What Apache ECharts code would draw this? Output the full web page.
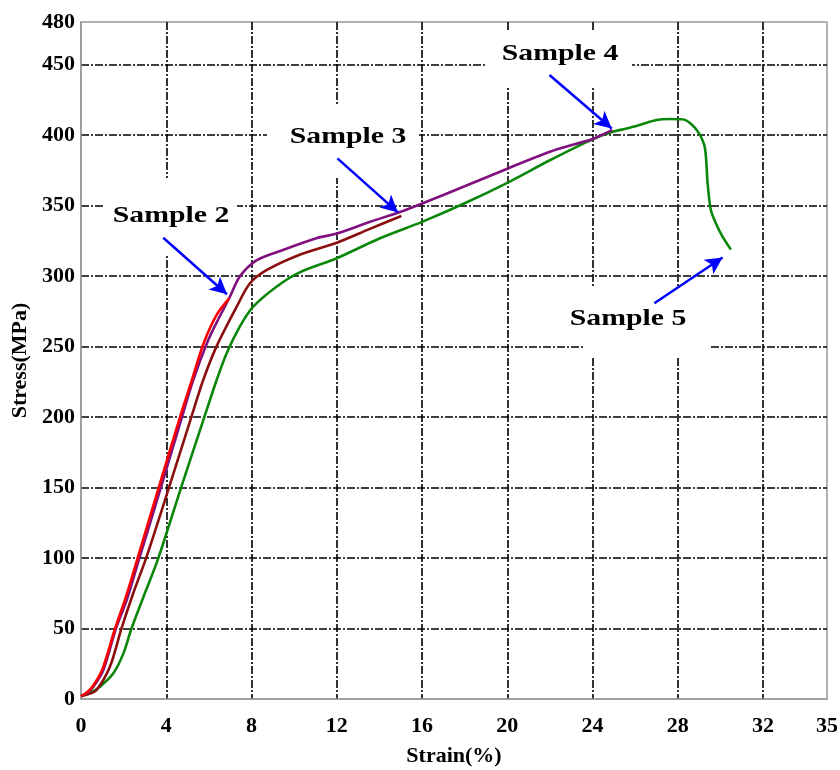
<!DOCTYPE html>
<html>
<head>
<meta charset="utf-8">
<script src="https://cdn.jsdelivr.net/npm/echarts@6/dist/echarts.min.js"></script>
<style>html,body{margin:0;padding:0;background:#fff;}#chart{width:840px;height:770px;}</style>
</head>
<body>
<div id="chart"></div>
<script>
// ---- tick values ----
var xTickValues = [0, 4, 8, 12, 16, 20, 24, 28, 32, 35];
var yTickValues = [0, 50, 100, 150, 200, 250, 300, 350, 400, 450, 480];

// ---- Sample 2 (red) ----
var s2Strain = [0, 0.3, 0.55, 1.0, 1.6, 2.1, 2.66, 3.65, 4.65, 5.2, 5.75, 6.35, 6.95];
var s2Stress = [2, 5, 9, 21, 50, 72, 100, 150, 200, 226, 252, 272, 284];

// ---- Sample 3 (maroon) ----
var s3Strain = [0, 0.35, 0.73, 1.36, 1.9, 2.45, 3.08, 4.13, 5.18, 5.73, 6.36, 7.3, 7.92, 8.7, 10.26, 12.0, 13.5, 15.03];
var s3Stress = [2, 3.5, 6.4, 23, 50, 75, 101, 150, 200, 226, 250, 278, 294.6, 304, 315, 323.5, 333, 342.5];

// ---- Sample 4 (purple) ----
var s4Strain = [0, 0.3, 0.58, 1.05, 1.64, 2.14, 2.76, 3.75, 4.74, 5.26, 5.97, 6.5, 6.98, 7.45, 8.23, 9.48, 11.04, 12.0, 13.5, 15.0, 16.0, 18.0, 20.0, 22.0, 23.2, 24.0, 24.93];
var s4Stress = [2, 4.5, 8.7, 20.6, 50, 70, 101, 150, 200, 226, 254.5, 271, 285, 299.5, 311, 318.4, 326.7, 330, 338, 345.5, 351.3, 363.5, 376, 388, 393.5, 397, 403.5];

// ---- Sample 5 (green) ----
var s5Strain = [0, 0.45, 0.89, 1.51, 1.98, 2.37, 2.92, 3.62, 4.7, 5.79, 6.36, 6.83, 7.45, 8.07, 9.17, 10.26, 12.0, 14.0, 16.0, 18.0, 20.0, 22.0, 24.0, 25.0, 25.6, 26.2, 27.0, 27.6, 28.2, 28.6, 29.0, 29.24, 29.32, 29.4, 29.55, 29.79, 30.1, 30.49];
var s5Stress = [2, 4.5, 8.7, 18, 32, 50, 72, 99.5, 150, 200, 226, 245, 264, 278, 292.3, 302.5, 312.5, 326.5, 338.3, 351.5, 366, 382, 396.8, 402.3, 404.5, 407, 410.5, 411.2, 411, 408, 401, 392.8, 384.5, 365.6, 346.7, 337.2, 327.8, 318.7];

// ---- annotation arrows (data coords: [fromStrain, fromStress, toStrain, toStress]) ----
var arrow2 = [3.86, 327, 6.85, 287];
var arrow3 = [12.03, 383.3, 14.87, 345];
var arrow4 = [21.98, 442.4, 24.9, 404.5];
var arrow5 = [26.9, 280.6, 30.1, 313];

function pairs(xs, ys) { return xs.map(function (x, i) { return [x, ys[i]]; }); }
function arrowLine(a) {
  return {
    silent: true, animation: false,
    symbol: ['none', 'arrow'], symbolSize: [13, 17],
    label: { show: false },
    lineStyle: { color: '#0000ff', width: 2.5, type: 'solid' },
    emphasis: { disabled: true },
    data: [[{ coord: [a[0], a[1]] }, { coord: [a[2], a[3]] }]]
  };
}

var serifBold = { fontFamily: 'Liberation Serif', fontWeight: 'bold', color: '#000' };
var gridLine = { color: '#000', width: 1.6, type: [8, 2, 2, 2] };

function seriesOf(name, xs, ys, color, arrow) {
  return {
    name: name, type: 'line', data: pairs(xs, ys),
    showSymbol: false, symbol: 'none',
    smooth: 0.3,
    lineStyle: { color: color, width: 2.6 },
    itemStyle: { color: color },
    animation: false, z: 3,
    markLine: arrowLine(arrow)
  };
}

var chart = echarts.init(document.getElementById('chart'), null, { renderer: 'canvas' });

function labelEl(text, cx, cy) {
  return {
    type: 'text', x: cx, y: cy, scaleX: 1.24, z: 20,
    style: { text: text, x: 0, y: 0, align: 'center', verticalAlign: 'middle',
      font: 'bold 24px "Liberation Serif"', fill: '#000' }
  };
}
function boxEl(x, y, w, h) {
  return { type: 'rect', shape: { x: x, y: y, width: w, height: h }, z: 1, silent: true,
    style: { fill: '#fff' } };
}

chart.setOption({
  backgroundColor: '#fff',
  animation: false,
  grid: { left: 81, right: 13, top: 22, bottom: 71, show: true, borderColor: '#999', borderWidth: 1.5, outerBoundsMode: 'none' },
  xAxis: {
    type: 'value', min: xTickValues[0], max: xTickValues[xTickValues.length - 1], interval: xTickValues[1] - xTickValues[0],
    name: 'Strain(%)', nameLocation: 'middle', nameGap: 46,
    nameTextStyle: Object.assign({ fontSize: 22 }, serifBold),
    axisLine: { show: true, lineStyle: { color: '#999', width: 1.5 } },
    axisTick: { show: false },
    axisLabel: Object.assign({ fontSize: 22, margin: 16 }, serifBold),
    splitLine: { show: true, showMinLine: false, showMaxLine: false, lineStyle: gridLine }
  },
  yAxis: {
    type: 'value', min: yTickValues[0], max: yTickValues[yTickValues.length - 1], interval: yTickValues[1] - yTickValues[0],
    name: 'Stress(MPa)', nameLocation: 'middle', nameGap: 48,
    nameTextStyle: Object.assign({ fontSize: 22 }, serifBold),
    axisLine: { show: true, lineStyle: { color: '#999', width: 1.5 } },
    axisTick: { show: false },
    axisLabel: Object.assign({ fontSize: 22, margin: 6 }, serifBold),
    splitLine: { show: true, showMinLine: false, showMaxLine: false, lineStyle: gridLine }
  },
  series: [
    seriesOf('Sample 5', s5Strain, s5Stress, '#0a870a', arrow5),
    seriesOf('Sample 3', s3Strain, s3Stress, '#8b0f0f', arrow3),
    seriesOf('Sample 4', s4Strain, s4Stress, '#80107f', arrow4),
    seriesOf('Sample 2', s2Strain, s2Stress, '#ff0000', arrow2)
  ],
  graphic: [
    boxEl(104, 178, 133, 78),
    boxEl(267, 105, 152, 73),
    boxEl(486, 32, 146, 56),
    boxEl(585, 288, 124, 69),
    labelEl('Sample 2', 171, 216),
    labelEl('Sample 3', 348, 137),
    labelEl('Sample 4', 560, 54),
    labelEl('Sample 5', 628, 319)
  ]
});
</script>
</body>
</html>
